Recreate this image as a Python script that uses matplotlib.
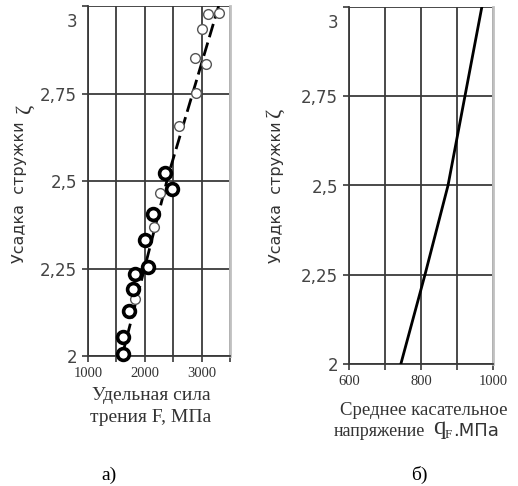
import matplotlib.pyplot as plt
from matplotlib.transforms import ScaledTranslation

# --- данные (а) ---
F_open = [3298, 3105, 3000, 2877, 3070, 2895, 2596, 2263, 2158, 1825]
z_open = [2.98, 2.977, 2.934, 2.851, 2.834, 2.751, 2.657, 2.466, 2.369, 2.163]
F_fill = [2351, 2474, 2140, 2000, 2053, 1825, 1789, 1719, 1614, 1614]
z_fill = [2.523, 2.477, 2.406, 2.331, 2.254, 2.234, 2.191, 2.129, 2.054, 2.006]
F_line = [1600, 2420, 3300]
z_line = [2.0, 2.52, 3.0]

# --- данные (б) ---
q_line = [744, 811, 875, 922, 969]
z_q = [2.0, 2.25, 2.5, 2.75, 3.0]

y_ticks = [2, 2.25, 2.5, 2.75, 3]
y_labels = ['2', '2,25', '2,5', '2,75', '3']

W, H = 518, 486
fig = plt.figure(figsize=(W / 100, H / 100), dpi=100)

def px(x, y):
    return x / W, 1 - y / H

def setup(ax, xt, xl):
    ax.set_ylim(2, 3)
    ax.set_yticks(y_ticks)
    ax.set_yticklabels(y_labels, fontsize=12, color='#444', family='DejaVu Sans')
    ax.set_xticks(xt)
    ax.set_xticklabels(xl, fontsize=10.5, color='#333', family='Liberation Serif')
    ax.grid(True, color='#3a3a3a', lw=1.3)
    ax.tick_params(length=4, width=1.2, color='#3a3a3a', pad=4)
    ax.spines['top'].set_visible(False)
    ax.spines['right'].set_color('#c0c0c0')
    ax.spines['right'].set_linewidth(2)
    for s in ('left', 'bottom'):
        ax.spines[s].set_color('#3a3a3a')
        ax.spines[s].set_linewidth(1.3)
    # верхняя подпись "3" сдвинута вниз, как в оригинале
    top = ax.get_yticklabels()[-1]
    top.set_transform(top.get_transform() + ScaledTranslation(0, -14 / 100, fig.dpi_scale_trans))

# (а)
ax1 = fig.add_axes([88 / W, 1 - 356 / H, 142 / W, 350 / H])
setup(ax1, [1000, 1500, 2000, 2500, 3000, 3500], ['1000', '', '2000', '', '3000', ''])
ax1.set_xlim(1000, 3500)
ax1.plot(F_line, z_line, color='black', lw=2, dashes=(5, 2), zorder=3)
ax1.plot(F_open, z_open, 'o', ms=7, mfc='white', mec='#555555', mew=1, zorder=4, clip_on=False)
ax1.plot(F_fill, z_fill, 'o', ms=8.5, mfc='white', mec='black', mew=2.6, zorder=5, clip_on=False)

# (б)
ax2 = fig.add_axes([349 / W, 1 - 364 / H, 144 / W, 357 / H])
setup(ax2, [600, 700, 800, 900, 1000], ['600', '', '800', '', '1000'])
ax2.set_xlim(600, 1000)
ax2.plot(q_line, z_q, color='black', lw=2, zorder=3)

# подписи осей Y
for xc, xz, yz in [(20, 25, 108), (277, 275, 112)]:
    fig.text(*px(xc, 192), 'Усадка  стружки', rotation=90, ha='center', va='center',
             fontsize=11.5, color='#333', family='DejaVu Sans')
    fig.text(*px(xz, yz), 'ζ', rotation=90, ha='center', va='center',
             fontsize=16, color='#333', family='Liberation Serif')

# подписи осей X
serif = dict(color='#333', family='Liberation Serif')
fig.text(*px(151, 396), 'Удельная сила', ha='center', va='center', fontsize=14, **serif)
fig.text(*px(151, 418), 'трения F, МПа', ha='center', va='center', fontsize=14, **serif)
fig.text(*px(424, 410), 'Среднее касательное', ha='center', va='center', fontsize=13.5, **serif)
fig.text(*px(334, 431), 'напряжение', ha='left', va='center', fontsize=13, **serif)
fig.text(*px(433, 428), 'q', ha='left', va='center', fontsize=18, **serif)
fig.text(*px(445, 435), 'F', ha='left', va='center', fontsize=9.5, **serif)
fig.text(*px(453, 431), '.МПа', ha='left', va='center', fontsize=13, color='#333',
         family='DejaVu Sans')

# подписи рисунков
fig.text(*px(109, 475), 'а)', ha='center', va='center', fontsize=14, family='Liberation Serif')
fig.text(*px(419, 475), 'б)', ha='center', va='center', fontsize=14, family='Liberation Serif')

fig.savefig('out.png', dpi=100, facecolor='white')
